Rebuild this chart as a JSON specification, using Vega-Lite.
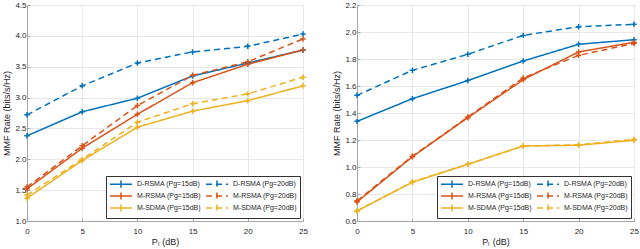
{
  "$schema": "https://vega.github.io/schema/vega-lite/v6.json",
  "padding": {"left": 2, "top": 0, "right": 0, "bottom": 0},
  "background": "white",
  "spacing": 54,
  "bounds": "flush",
  "config": {
    "font": "Liberation Sans",
    "view": {"stroke": "#a6a6a6", "strokeWidth": 1},
    "axis": {
      "gridColor": "#e8e8e8",
      "domainColor": "#a6a6a6",
      "tickColor": "#a6a6a6",
      "tickSize": -3,
      "labelColor": "#262626",
      "labelFontSize": 8,
      "titleColor": "#262626",
      "titleFontSize": 9,
      "titleFontWeight": "normal",
      "labelFlush": false
    },
    "axisX": {"labelPadding": 9, "titlePadding": 2},
    "axisY": {"labelPadding": 4, "titlePadding": 3},
    "legend": {
      "labelFontSize": 7,
      "labelColor": "#262626",
      "fillColor": "white",
      "strokeColor": "#333333",
      "padding": 3,
      "rowPadding": -2,
      "columnPadding": 2,
      "symbolType": "M-2.75,0H2.75M0,-0.9V0.9",
      "symbolSize": 64,
      "symbolStrokeWidth": 1.5,
      "symbolOffset": 7,
      "labelOffset": 11
    }
  },
  "datasets": {
    "left": [
      {"x": 0, "y": 2.38, "s": "D-RSMA (Pg=15dB)"}, {"x": 5, "y": 2.77, "s": "D-RSMA (Pg=15dB)"}, {"x": 10, "y": 2.99, "s": "D-RSMA (Pg=15dB)"}, {"x": 15, "y": 3.35, "s": "D-RSMA (Pg=15dB)"}, {"x": 20, "y": 3.56, "s": "D-RSMA (Pg=15dB)"}, {"x": 25, "y": 3.77, "s": "D-RSMA (Pg=15dB)"},
      {"x": 0, "y": 2.72, "s": "D-RSMA (Pg=20dB)"}, {"x": 5, "y": 3.19, "s": "D-RSMA (Pg=20dB)"}, {"x": 10, "y": 3.56, "s": "D-RSMA (Pg=20dB)"}, {"x": 15, "y": 3.74, "s": "D-RSMA (Pg=20dB)"}, {"x": 20, "y": 3.83, "s": "D-RSMA (Pg=20dB)"}, {"x": 25, "y": 4.03, "s": "D-RSMA (Pg=20dB)"},
      {"x": 0, "y": 1.52, "s": "M-RSMA (Pg=15dB)"}, {"x": 5, "y": 2.18, "s": "M-RSMA (Pg=15dB)"}, {"x": 10, "y": 2.73, "s": "M-RSMA (Pg=15dB)"}, {"x": 15, "y": 3.24, "s": "M-RSMA (Pg=15dB)"}, {"x": 20, "y": 3.54, "s": "M-RSMA (Pg=15dB)"}, {"x": 25, "y": 3.77, "s": "M-RSMA (Pg=15dB)"},
      {"x": 0, "y": 1.55, "s": "M-RSMA (Pg=20dB)"}, {"x": 5, "y": 2.22, "s": "M-RSMA (Pg=20dB)"}, {"x": 10, "y": 2.87, "s": "M-RSMA (Pg=20dB)"}, {"x": 15, "y": 3.36, "s": "M-RSMA (Pg=20dB)"}, {"x": 20, "y": 3.58, "s": "M-RSMA (Pg=20dB)"}, {"x": 25, "y": 3.95, "s": "M-RSMA (Pg=20dB)"},
      {"x": 0, "y": 1.37, "s": "M-SDMA (Pg=15dB)"}, {"x": 5, "y": 1.98, "s": "M-SDMA (Pg=15dB)"}, {"x": 10, "y": 2.52, "s": "M-SDMA (Pg=15dB)"}, {"x": 15, "y": 2.78, "s": "M-SDMA (Pg=15dB)"}, {"x": 20, "y": 2.95, "s": "M-SDMA (Pg=15dB)"}, {"x": 25, "y": 3.19, "s": "M-SDMA (Pg=15dB)"},
      {"x": 0, "y": 1.42, "s": "M-SDMA (Pg=20dB)"}, {"x": 5, "y": 2.0, "s": "M-SDMA (Pg=20dB)"}, {"x": 10, "y": 2.6, "s": "M-SDMA (Pg=20dB)"}, {"x": 15, "y": 2.9, "s": "M-SDMA (Pg=20dB)"}, {"x": 20, "y": 3.06, "s": "M-SDMA (Pg=20dB)"}, {"x": 25, "y": 3.33, "s": "M-SDMA (Pg=20dB)"}
    ],
    "right": [
      {"x": 0, "y": 1.338, "s": "D-RSMA (Pg=15dB)"}, {"x": 5, "y": 1.506, "s": "D-RSMA (Pg=15dB)"}, {"x": 10, "y": 1.64, "s": "D-RSMA (Pg=15dB)"}, {"x": 15, "y": 1.785, "s": "D-RSMA (Pg=15dB)"}, {"x": 20, "y": 1.909, "s": "D-RSMA (Pg=15dB)"}, {"x": 25, "y": 1.943, "s": "D-RSMA (Pg=15dB)"},
      {"x": 0, "y": 1.531, "s": "D-RSMA (Pg=20dB)"}, {"x": 5, "y": 1.716, "s": "D-RSMA (Pg=20dB)"}, {"x": 10, "y": 1.835, "s": "D-RSMA (Pg=20dB)"}, {"x": 15, "y": 1.975, "s": "D-RSMA (Pg=20dB)"}, {"x": 20, "y": 2.039, "s": "D-RSMA (Pg=20dB)"}, {"x": 25, "y": 2.057, "s": "D-RSMA (Pg=20dB)"},
      {"x": 0, "y": 0.741, "s": "M-RSMA (Pg=15dB)"}, {"x": 5, "y": 1.076, "s": "M-RSMA (Pg=15dB)"}, {"x": 10, "y": 1.365, "s": "M-RSMA (Pg=15dB)"}, {"x": 15, "y": 1.647, "s": "M-RSMA (Pg=15dB)"}, {"x": 20, "y": 1.852, "s": "M-RSMA (Pg=15dB)"}, {"x": 25, "y": 1.924, "s": "M-RSMA (Pg=15dB)"},
      {"x": 0, "y": 0.75, "s": "M-RSMA (Pg=20dB)"}, {"x": 5, "y": 1.08, "s": "M-RSMA (Pg=20dB)"}, {"x": 10, "y": 1.37, "s": "M-RSMA (Pg=20dB)"}, {"x": 15, "y": 1.66, "s": "M-RSMA (Pg=20dB)"}, {"x": 20, "y": 1.827, "s": "M-RSMA (Pg=20dB)"}, {"x": 25, "y": 1.915, "s": "M-RSMA (Pg=20dB)"},
      {"x": 0, "y": 0.674, "s": "M-SDMA (Pg=15dB)"}, {"x": 5, "y": 0.887, "s": "M-SDMA (Pg=15dB)"}, {"x": 10, "y": 1.02, "s": "M-SDMA (Pg=15dB)"}, {"x": 15, "y": 1.156, "s": "M-SDMA (Pg=15dB)"}, {"x": 20, "y": 1.161, "s": "M-SDMA (Pg=15dB)"}, {"x": 25, "y": 1.198, "s": "M-SDMA (Pg=15dB)"},
      {"x": 0, "y": 0.675, "s": "M-SDMA (Pg=20dB)"}, {"x": 5, "y": 0.89, "s": "M-SDMA (Pg=20dB)"}, {"x": 10, "y": 1.02, "s": "M-SDMA (Pg=20dB)"}, {"x": 15, "y": 1.155, "s": "M-SDMA (Pg=20dB)"}, {"x": 20, "y": 1.165, "s": "M-SDMA (Pg=20dB)"}, {"x": 25, "y": 1.205, "s": "M-SDMA (Pg=20dB)"}
    ]
  },
  "resolve": {
    "scale": {"y": "independent", "color": "independent", "strokeDash": "independent"},
    "legend": {"color": "independent", "strokeDash": "independent"}
  },
  "hconcat": [
    {
      "width": 276,
      "height": 216,
      "data": {"name": "left"},
      "encoding": {
        "x": {"field": "x", "type": "quantitative", "scale": {"domain": [0, 25], "nice": false}, "axis": {"title": "Pₗ (dB)", "values": [0, 5, 10, 15, 20, 25]}},
        "y": {"field": "y", "type": "quantitative", "scale": {"domain": [1, 4.5], "nice": false, "zero": false}, "axis": {"title": "MMF Rate (bits/s/Hz)", "values": [1, 1.5, 2, 2.5, 3, 3.5, 4, 4.5]}},
        "color": {
          "field": "s", "type": "nominal",
          "scale": {
            "domain": ["D-RSMA (Pg=15dB)", "M-RSMA (Pg=15dB)", "M-SDMA (Pg=15dB)", "D-RSMA (Pg=20dB)", "M-RSMA (Pg=20dB)", "M-SDMA (Pg=20dB)"],
            "range": ["#0072BD", "#D95319", "#EDB120", "#0072BD", "#D95319", "#EDB120"]
          },
          "legend": {"title": null, "orient": "none", "legendX": 79, "legendY": 171, "columns": 2}
        },
        "strokeDash": {
          "field": "s", "type": "nominal",
          "scale": {
            "domain": ["D-RSMA (Pg=15dB)", "M-RSMA (Pg=15dB)", "M-SDMA (Pg=15dB)", "D-RSMA (Pg=20dB)", "M-RSMA (Pg=20dB)", "M-SDMA (Pg=20dB)"],
            "range": [[1, 0], [1, 0], [1, 0], [6, 4], [6, 4], [6, 4]]
          },
          "legend": {"title": null, "orient": "none", "legendX": 79, "legendY": 171, "columns": 2}
        }
      },
      "layer": [
        {"mark": {"type": "line", "strokeWidth": 1.5}},
        {"mark": {"type": "point", "shape": "M-1,0H1M0,-1V1", "filled": false, "size": 30, "strokeWidth": 1.5, "opacity": 1, "strokeDash": [1, 0]}}
      ]
    },
    {
      "width": 277,
      "height": 216,
      "data": {"name": "right"},
      "encoding": {
        "x": {"field": "x", "type": "quantitative", "scale": {"domain": [0, 25], "nice": false}, "axis": {"title": "Pₗ (dB)", "values": [0, 5, 10, 15, 20, 25]}},
        "y": {"field": "y", "type": "quantitative", "scale": {"domain": [0.6, 2.2], "nice": false, "zero": false}, "axis": {"title": "MMF Rate (bits/s/Hz)", "values": [0.6, 0.8, 1, 1.2, 1.4, 1.6, 1.8, 2, 2.2]}},
        "color": {
          "field": "s", "type": "nominal",
          "scale": {
            "domain": ["D-RSMA (Pg=15dB)", "M-RSMA (Pg=15dB)", "M-SDMA (Pg=15dB)", "D-RSMA (Pg=20dB)", "M-RSMA (Pg=20dB)", "M-SDMA (Pg=20dB)"],
            "range": ["#0072BD", "#D95319", "#EDB120", "#0072BD", "#D95319", "#EDB120"]
          },
          "legend": {"title": null, "orient": "none", "legendX": 80, "legendY": 171, "columns": 2}
        },
        "strokeDash": {
          "field": "s", "type": "nominal",
          "scale": {
            "domain": ["D-RSMA (Pg=15dB)", "M-RSMA (Pg=15dB)", "M-SDMA (Pg=15dB)", "D-RSMA (Pg=20dB)", "M-RSMA (Pg=20dB)", "M-SDMA (Pg=20dB)"],
            "range": [[1, 0], [1, 0], [1, 0], [6, 4], [6, 4], [6, 4]]
          },
          "legend": {"title": null, "orient": "none", "legendX": 80, "legendY": 171, "columns": 2}
        }
      },
      "layer": [
        {"mark": {"type": "line", "strokeWidth": 1.5}},
        {"mark": {"type": "point", "shape": "M-1,0H1M0,-1V1", "filled": false, "size": 30, "strokeWidth": 1.5, "opacity": 1, "strokeDash": [1, 0]}}
      ]
    }
  ]
}
